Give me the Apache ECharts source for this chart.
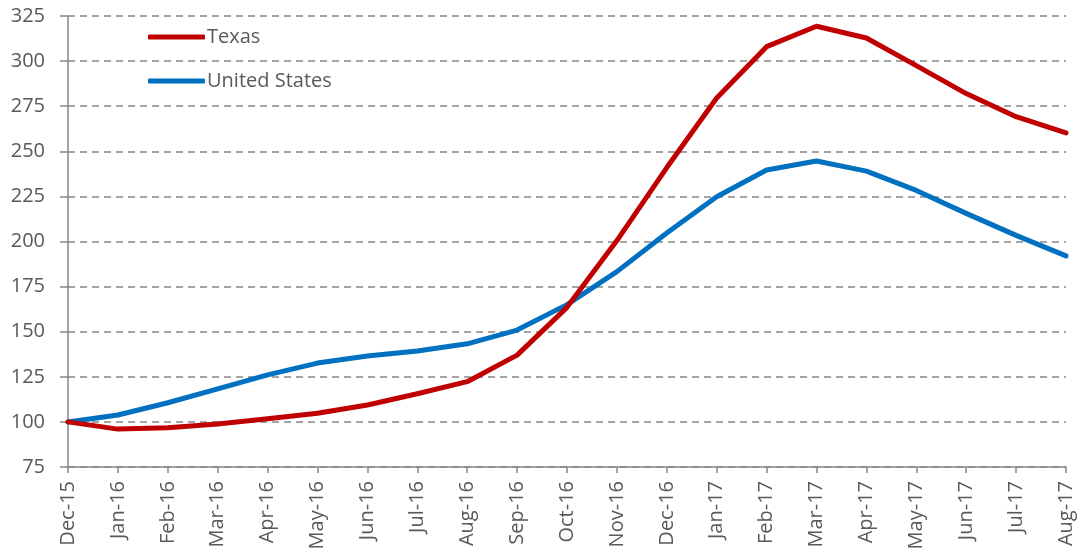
<!DOCTYPE html>
<html>
<head>
<meta charset="utf-8">
<script src="https://cdn.jsdelivr.net/npm/echarts@6/dist/echarts.min.js"></script>
<style>
  html, body { margin: 0; padding: 0; background: #fff; }
  #chart { width: 1078px; height: 556px; }
</style>
</head>
<body>
<div id="chart"></div>
<script>
// Monthly index, Dec-15 = 100
const months = ['Dec-15','Jan-16','Feb-16','Mar-16','Apr-16','May-16','Jun-16','Jul-16','Aug-16','Sep-16','Oct-16','Nov-16','Dec-16','Jan-17','Feb-17','Mar-17','Apr-17','May-17','Jun-17','Jul-17','Aug-17'];
const texas = [100, 96.0, 96.7, 98.9, 101.7, 104.8, 109.4, 115.6, 122.3, 137, 163.5, 200.5, 241, 279.5, 308, 319.3, 312.8, 297.5, 282, 269.2, 260.2];
const unitedStates = [100, 103.8, 110.6, 118.3, 126.1, 132.6, 136.5, 139.3, 143.3, 150.9, 165, 183.3, 204.7, 224.8, 239.6, 244.6, 239, 228.3, 215.6, 203.4, 192];
const yMin = 75, yMax = 325, yStep = 25;

const gray = '#595959';
const lineGray = '#868686';
const font = 'Open Sans';

const chart = echarts.init(document.getElementById('chart'));
chart.setOption({
  animation: false,
  backgroundColor: '#ffffff',
  grid: { left: 68, right: 12, top: 16, bottom: 89, containLabel: false },
  legend: {
    orient: 'vertical',
    left: 143,
    top: 22,
    icon: 'roundRect',
    itemWidth: 57,
    itemHeight: 5,
    itemGap: 24,
    textStyle: { fontFamily: font, fontSize: 20, lineHeight: 20, color: gray, padding: [0, 0, 0, -3] },
    data: ['Texas', 'United States']
  },
  xAxis: {
    type: 'category',
    data: months,
    boundaryGap: false,
    axisLine: { lineStyle: { color: lineGray, width: 1.5 } },
    axisTick: { show: true, length: 6, alignWithLabel: true, lineStyle: { color: lineGray, width: 1.5 } },
    axisLabel: { rotate: 90, margin: 14, fontFamily: font, fontSize: 20, color: gray, interval: 0 },
    splitLine: { show: false }
  },
  yAxis: {
    type: 'value',
    min: yMin, max: yMax, interval: yStep,
    axisLine: { show: true, lineStyle: { color: lineGray, width: 1.5 } },
    axisTick: { show: true, length: 8, lineStyle: { color: lineGray, width: 1.5 } },
    axisLabel: { margin: 23, fontFamily: font, fontSize: 20, color: gray },
    splitLine: { show: true, lineStyle: { color: lineGray, width: 1.5, type: [7, 5] } }
  },
  series: [
    {
      name: 'Texas', type: 'line', data: texas, symbol: 'none',
      lineStyle: { color: '#C00000', width: 5, cap: 'round', join: 'round' },
      itemStyle: { color: '#C00000' }, z: 3
    },
    {
      name: 'United States', type: 'line', data: unitedStates, symbol: 'none',
      lineStyle: { color: '#0070C0', width: 5, cap: 'round', join: 'round' },
      itemStyle: { color: '#0070C0' }, z: 2
    }
  ]
});
</script>
</body>
</html>
